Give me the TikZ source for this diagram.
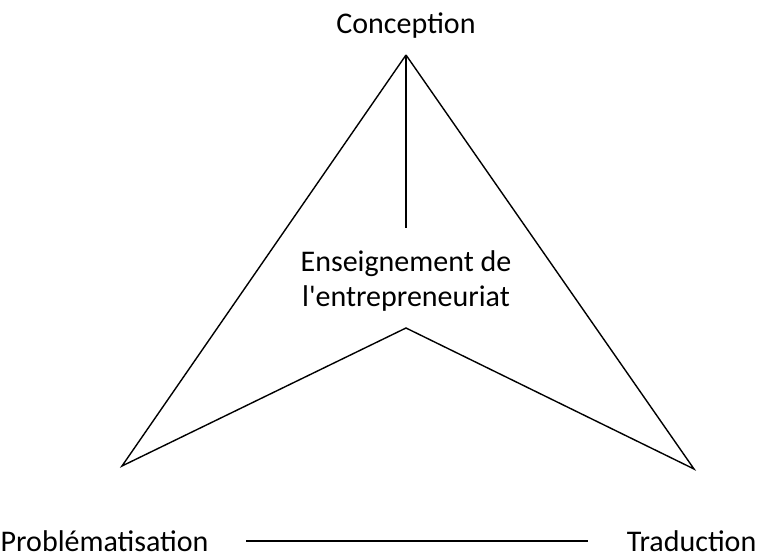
\documentclass[tikz,border=0pt]{standalone}
\usepackage{fontspec}
\setmainfont{Carlito}

\begin{document}
\begin{tikzpicture}[x=0.5pt,y=-0.5pt,line width=0.7pt,
  every node/.style={font=\fontsize{15}{17.5}\selectfont,align=center,inner sep=0pt}]
  \useasboundingbox (0,0) rectangle (760,556);
  \coordinate (apex) at (406,55);
  \coordinate (stem) at (406,228);
  \coordinate (inner) at (406,328);
  \coordinate (ltip) at (122,466);
  \coordinate (rtip) at (694,469);
  \node (concep) at (406,26) {Conception};
  \node (enseign) at (406,281) {Enseignement de\\l\textquotesingle entrepreneuriat};
  \node[anchor=west] (probl) at (0,541) {Problématisation};
  \node[anchor=east] (trad) at (757,541) {Traduction};
  \draw (apex)--(ltip)--(inner)--(rtip)--(apex);
  \draw (apex)--(stem);
  \draw[line width=0.9pt] ([xshift=18.5pt]probl.east)--([xshift=-19pt]trad.west);
\end{tikzpicture}
\end{document}
